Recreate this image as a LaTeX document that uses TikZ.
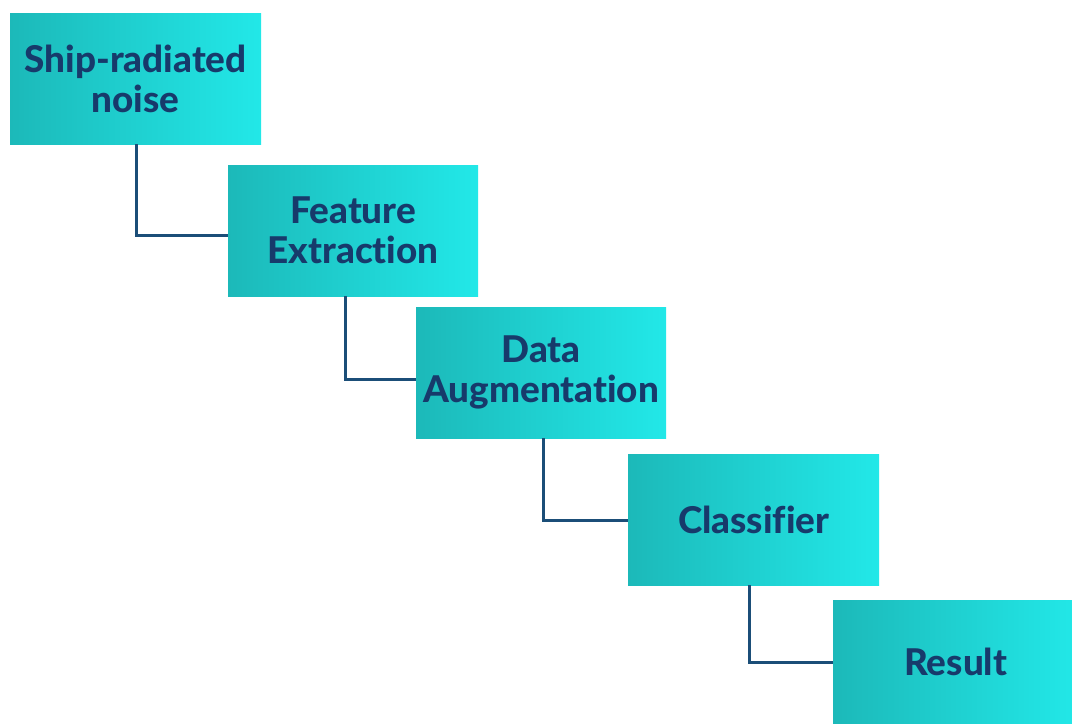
\documentclass[tikz,border=0pt]{standalone}
\usepackage{fontspec}
\setmainfont{Lato}[UprightFont=* Heavy, BoldFont=* Black, RawFeature=-liga]
\definecolor{boxleft}{HTML}{1CB9B9}
\definecolor{boxright}{HTML}{22E8E8}
\definecolor{txt}{HTML}{173A6B}
\definecolor{conn}{HTML}{1B4E78}
\tikzset{
  stepbox/.style={rectangle, left color=boxleft, right color=boxright, draw=none,
    minimum width=251bp, minimum height=131bp, inner sep=0pt, align=center,
    text=txt, font=\fontsize{37}{40}\selectfont, anchor=north west},
  conn/.style={draw=conn, line width=2.6bp}
}
\begin{document}
\begin{tikzpicture}[x=1bp,y=-1bp]
\useasboundingbox (0,0) rectangle (1072,724);
\clip (0,0) rectangle (1072,724);
\fill[white] (0,0) rectangle (1072,724);
\node[stepbox] (a) at (10,13) {Ship-radiated\\noise};
\node[stepbox, minimum width=250bp] (b) at (228,165) {Feature\\Extraction};
\node[stepbox, minimum width=250bp] (c) at (416,307) {Data\\Augmentation};
\node[stepbox] (d) at (628,454) {Classifier};
\node[stepbox, minimum width=245bp, minimum height=124bp] (e) at (833,600) {Result};
\draw[conn] ([xshift=1bp]a.south) |- ([yshift=-5bp]b.west);
\draw[conn] ([xshift=-8bp]b.south) |- ([yshift=-7bp]c.west);
\draw[conn] ([xshift=2bp]c.south) |- ([yshift=-1bp]d.west);
\draw[conn] ([xshift=-4bp]d.south) |- (e.west);
\end{tikzpicture}
\end{document}
